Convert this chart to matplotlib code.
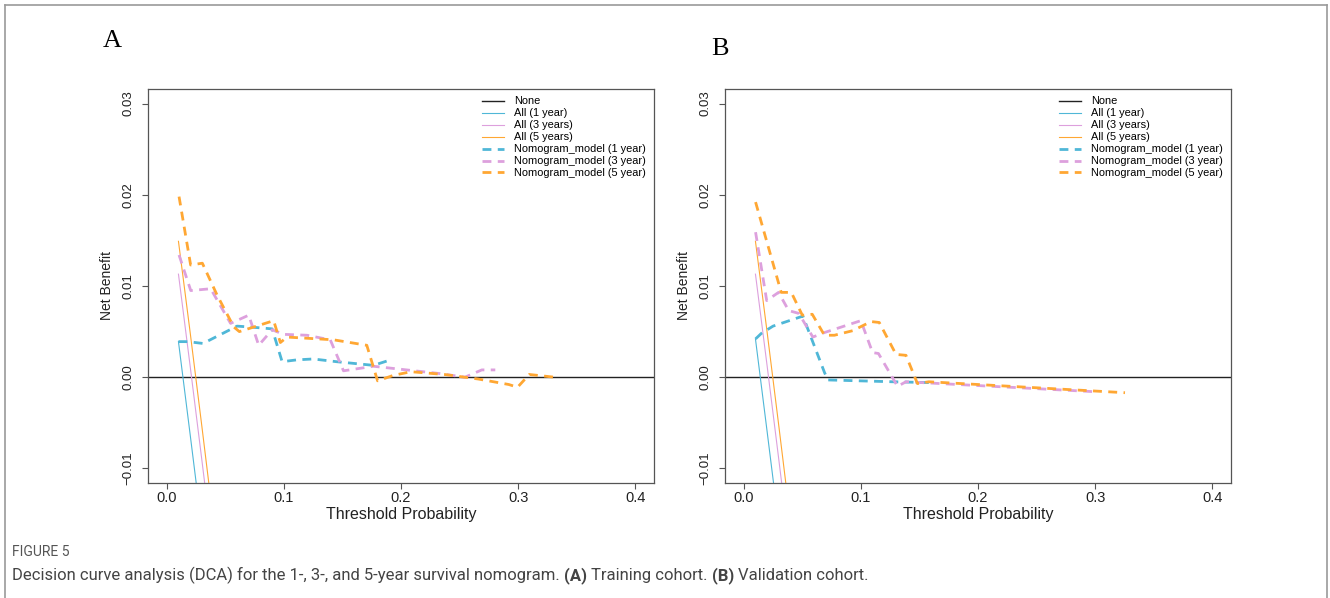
import matplotlib
matplotlib.use('Agg')
import matplotlib.pyplot as plt
from matplotlib.lines import Line2D

plt.rcParams['font.family'] = ['Liberation Sans', 'DejaVu Sans']

# --- treat-all lines (both cohorts)
all_x = [0.01, 0.02, 0.03, 0.04]
A_all1 = [0.0039, -0.0063, -0.0166, -0.0272]
A_all3 = [0.0113, 0.0012, -0.0091, -0.0196]
A_all5 = [0.0149, 0.0049, -0.0054, -0.0159]
B_all1 = [0.0042, -0.0060, -0.0163, -0.0269]
B_all3 = [0.0113, 0.0012, -0.0091, -0.0196]
B_all5 = [0.0149, 0.0049, -0.0054, -0.0159]

# --- nomogram curves, panel A (training)
A_nom1_x = [0.010, 0.018, 0.031, 0.060, 0.0715, 0.090, 0.0985, 0.111, 0.125, 0.145, 0.1765, 0.191]
A_nom1_y = [0.0039, 0.0039, 0.0037, 0.0056, 0.0055, 0.0053, 0.0017, 0.0019, 0.0020, 0.0017, 0.0013, 0.0019]
A_nom3_x = [0.0105, 0.0205, 0.0375, 0.0545, 0.070, 0.0785, 0.090, 0.0998, 0.1197, 0.1396, 0.1509,
            0.1765, 0.233, 0.2545, 0.269, 0.2805]
A_nom3_y = [0.0134, 0.0095, 0.0097, 0.0059, 0.0068, 0.0035, 0.0052, 0.0047, 0.0046, 0.0041, 0.0007,
            0.0012, 0.0004, 0.0000, 0.0008, 0.0008]
A_nom5_x = [0.0105, 0.0204, 0.0304, 0.043, 0.0573, 0.062, 0.0913, 0.097, 0.1027, 0.1424, 0.1708,
            0.180, 0.1934, 0.2085, 0.237, 0.266, 0.292, 0.2995, 0.3095, 0.331]
A_nom5_y = [0.0198, 0.0123, 0.0125, 0.0090, 0.0055, 0.0050, 0.0062, 0.0038, 0.0044, 0.0041, 0.0035,
            -0.0004, 0.0002, 0.0006, 0.0003, -0.0002, -0.0008, -0.0011, 0.0003, 0.0000]

# --- nomogram curves, panel B (validation)
B_nom1_x = [0.0101, 0.015, 0.025, 0.0505, 0.069, 0.0718, 0.127, 0.161]
B_nom1_y = [0.0042, 0.0048, 0.0056, 0.0067, 0.0005, -0.0003, -0.0005, -0.0006]
B_nom3_x = [0.0101, 0.0196, 0.0297, 0.0384, 0.047, 0.059, 0.069, 0.100, 0.110, 0.115, 0.1313,
            0.1385, 0.301]
B_nom3_y = [0.0159, 0.0084, 0.0093, 0.0073, 0.0070, 0.0044, 0.0049, 0.0062, 0.0027, 0.0026, -0.0010,
            -0.0005, -0.0016]
B_nom5_x = [0.0101, 0.032, 0.0406, 0.050, 0.0585, 0.0689, 0.0774, 0.093, 0.1087, 0.1157, 0.130,
            0.1385, 0.1483, 0.158, 0.3255]
B_nom5_y = [0.0192, 0.0093, 0.0093, 0.0068, 0.0069, 0.0046, 0.0046, 0.0051, 0.0061, 0.0060, 0.0025,
            0.0024, -0.0007, -0.0005, -0.0017]

xticks = [0.0, 0.1, 0.2, 0.3, 0.4]
xtick_labels = ['0.0', '0.1', '0.2', '0.3', '0.4']
yticks = [-0.01, 0.0, 0.01, 0.02, 0.03]
ytick_labels = ['\u22120.01', '0.00', '0.01', '0.02', '0.03']

cyan = '#4fb7d7'
plum = '#dda0dd'
orange = '#ffa733'
frame = '#555555'

W, H = 1330, 598
fig = plt.figure(figsize=(W / 100, H / 100), dpi=100)


def px_axes(left, top, right, bottom):
    return fig.add_axes([left / W, 1 - bottom / H, (right - left) / W, (bottom - top) / H])


def dca_panel(ax, all1, all3, all5, n1x, n1y, n3x, n3y, n5x, n5y):
    ax.axhline(0, color='#222222', lw=1.0, label='None')
    ax.plot(all_x, all1, color=cyan, lw=0.8, label='All (1 year)')
    ax.plot(all_x, all3, color=plum, lw=0.8, label='All (3 years)')
    ax.plot(all_x, all5, color=orange, lw=0.8, label='All (5 years)')
    dash = (3.2, 2.3)
    ax.plot(n1x, n1y, color=cyan, lw=2.0, dashes=dash, label='Nomogram_model (1 year)')
    ax.plot(n3x, n3y, color=plum, lw=2.0, dashes=dash, label='Nomogram_model (3 year)')
    ax.plot(n5x, n5y, color=orange, lw=2.0, dashes=dash, label='Nomogram_model (5 year)')

    ax.set_xlim(-0.016, 0.416)
    ax.set_ylim(-0.0116, 0.0316)
    ax.set_xticks(xticks)
    ax.set_xticklabels(xtick_labels)
    ax.set_yticks(yticks)
    ax.set_yticklabels(ytick_labels)
    ax.tick_params(axis='both', direction='out', length=4.5, width=0.8, color=frame,
                   labelcolor='#222222')
    ax.tick_params(axis='x', labelsize=10.5, pad=1.5)
    ax.tick_params(axis='y', labelsize=9.5, pad=5, labelrotation=90)
    for lab in ax.get_yticklabels():
        lab.set_va('center')
    for sp in ax.spines.values():
        sp.set_color(frame)
        sp.set_linewidth(0.9)

    ax.legend(loc='upper left', bbox_to_anchor=(0.660, 0.981), frameon=False, fontsize=7.9,
              labelspacing=0.18, handlelength=2.0, handletextpad=0.9, borderpad=0,
              borderaxespad=0)


axA = px_axes(148, 89, 654, 483)
dca_panel(axA, A_all1, A_all3, A_all5, A_nom1_x, A_nom1_y, A_nom3_x, A_nom3_y, A_nom5_x, A_nom5_y)
axB = px_axes(725, 89, 1231, 483)
dca_panel(axB, B_all1, B_all3, B_all5, B_nom1_x, B_nom1_y, B_nom3_x, B_nom3_y, B_nom5_x, B_nom5_y)

# axis titles and panel letters
for left, right in [(148, 654), (725, 1231)]:
    fig.text((left + right) / 2 / W, 1 - 514 / H, 'Threshold Probability', fontsize=11.5,
             ha='center', va='center', color='#222222')
    fig.text((left - 41) / W, 1 - 286 / H, 'Net Benefit', fontsize=10, rotation=90,
             ha='center', va='center', color='#222222')
fig.text(112 / W, 1 - 41 / H, 'A', fontsize=19, family=['Liberation Serif', 'DejaVu Serif'],
         ha='center', va='center')
fig.text(720 / W, 1 - 49 / H, 'B', fontsize=19, family=['Liberation Serif', 'DejaVu Serif'],
         ha='center', va='center')

# outer frame (open at the bottom)
border = '#9a9a9a'
fig.add_artist(Line2D([4.5 / W, 4.5 / W], [0, 1 - 5 / H], color=border, lw=1.2))
fig.add_artist(Line2D([4.5 / W, 1327 / W], [1 - 5 / H, 1 - 5 / H], color=border, lw=1.2))
fig.add_artist(Line2D([1327 / W, 1327 / W], [0, 1 - 5 / H], color=border, lw=1.2))

# caption
cap_font = ['Roboto', 'DejaVu Sans']
fig.text(12 / W, 1 - 556 / H, 'FIGURE 5', fontsize=10, family=cap_font, color='#555555',
         va='baseline')

pieces = [('Decision curve analysis (DCA) for the 1-, 3-, and 5-year survival nomogram.', 'normal'),
          ('(A)', 'bold'), ('Training cohort.', 'normal'), ('(B)', 'bold'),
          ('Validation cohort.', 'normal')]
renderer = fig.canvas.get_renderer()
cap_size = 12
probe = fig.text(0, 0, 'a a', fontsize=cap_size, family=cap_font)
w_sp = probe.get_window_extent(renderer).width
probe.set_text('aa')
w_sp -= probe.get_window_extent(renderer).width
probe.remove()
x = 12.0
for txt, weight in pieces:
    t = fig.text(x / W, 1 - 580 / H, txt, fontsize=cap_size, family=cap_font, weight=weight,
                 color='#444444', va='baseline')
    x += t.get_window_extent(renderer).width + w_sp

fig.savefig('out.png', dpi=100)
